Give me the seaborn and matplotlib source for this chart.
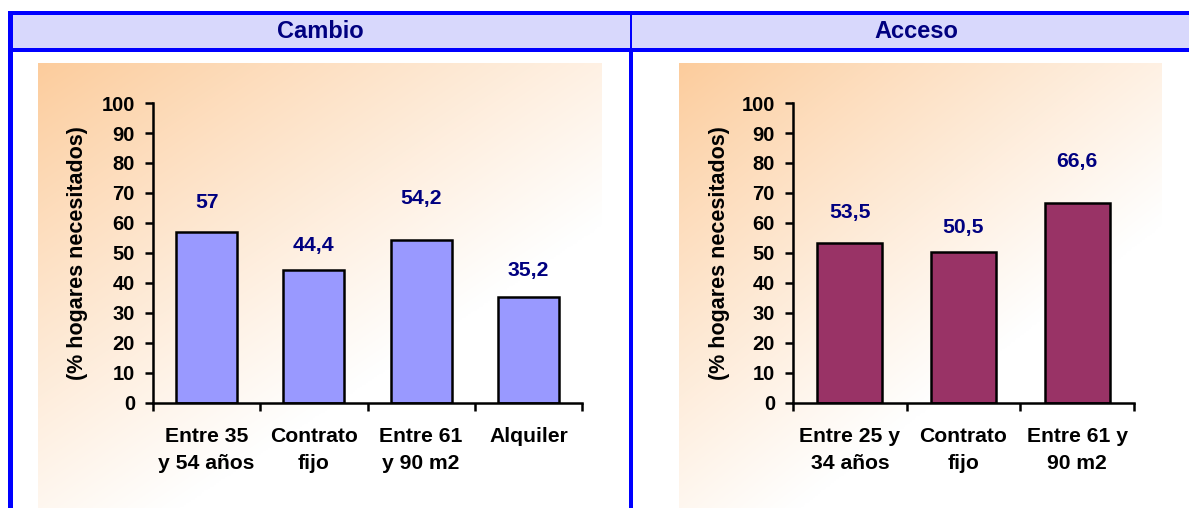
import numpy as np
import pandas as pd
import matplotlib
matplotlib.use("Agg")
import matplotlib.pyplot as plt
from matplotlib.patches import Rectangle
from matplotlib.colors import to_rgb
import seaborn as sns

# --- data -------------------------------------------------------------
cambio_cats = ["Entre 35\ny 54 años", "Contrato\nfijo", "Entre 61\ny 90 m2", "Alquiler"]
cambio_vals = [57, 44.4, 54.2, 35.2]

acceso_cats = ["Entre 25 y\n34 años", "Contrato\nfijo", "Entre 61 y\n90 m2"]
acceso_vals = [53.5, 50.5, 66.6]

panel_titles = ["Cambio", "Acceso"]
y_label = "(% hogares necesitados)"
y_ticks = list(range(0, 101, 10))

# vertical offsets (data units) of the value labels above each bar
cambio_label_pad = [10, 8, 14, 9]
acceso_label_pad = [10, 8, 14]

# --- style ------------------------------------------------------------
sns.set_theme(style="white")
plt.rcParams["font.family"] = ["Liberation Sans", "DejaVu Sans"]
plt.rcParams["font.weight"] = "bold"

W, H = 1189, 508
fig = plt.figure(figsize=(W / 100, H / 100), dpi=100)

FRAME = "#0000FF"
HEADER = "#D8D8FC"
NAVY = "#000080"
FS_TICK = 14.5
FS = 15.2

# background layer in pixel coordinates
bg = fig.add_axes([0, 0, 1, 1], zorder=0)
bg.set_xlim(0, W)
bg.set_ylim(H, 0)
bg.axis("off")


def gradient_box(ax, x0, y0, x1, y1):
    nx, ny = 300, 240
    u = np.linspace(0, 1, nx)[None, :]
    v = np.linspace(0, 1, ny)[:, None]
    t = np.clip(0.68 * u + 0.8 * v + 0.03, 0, 1) ** 0.9
    c0 = np.array(to_rgb("#FCCA98"))
    c1 = np.array([1.0, 1.0, 1.0])
    img = c0[None, None, :] * (1 - t[..., None]) + c1[None, None, :] * t[..., None]
    ax.imshow(img, extent=(x0, x1, y1, y0), aspect="auto", interpolation="bilinear", zorder=1)


gradient_box(bg, 38, 63, 602, H)
gradient_box(bg, 679, 63, 1162, H)

# header band and blue frame
bg.add_patch(Rectangle((8, 15), W - 8, 33, facecolor=HEADER, edgecolor="none", zorder=2))
bg.add_patch(Rectangle((8, 11), W - 8, 4, facecolor=FRAME, edgecolor="none", zorder=3))
bg.add_patch(Rectangle((8, 48), W - 8, 4, facecolor=FRAME, edgecolor="none", zorder=3))
bg.add_patch(Rectangle((8, 11), 5, H - 11, facecolor=FRAME, edgecolor="none", zorder=3))
bg.add_patch(Rectangle((630, 15), 2, 33, facecolor=FRAME, edgecolor="none", zorder=3))
bg.add_patch(Rectangle((629, 52), 4, H - 52, facecolor=FRAME, edgecolor="none", zorder=3))

bg.text(320, 32, panel_titles[0], ha="center", va="center", fontsize=17,
        fontweight="bold", color=NAVY, zorder=4)
bg.text(916, 32, panel_titles[1], ha="center", va="center", fontsize=17,
        fontweight="bold", color=NAVY, zorder=4)


def px_rect(x0, x1, ytop, ybot):
    return [x0 / W, (H - ybot) / H, (x1 - x0) / W, (ybot - ytop) / H]


def bar_panel(rect, cats, vals, pads, color, ylab_x):
    ax = fig.add_axes(rect, zorder=5)
    ax.patch.set_alpha(0)
    df = pd.DataFrame({"cat": cats, "val": vals})
    sns.barplot(data=df, x="cat", y="val", color=color, saturation=1,
                width=0.57, edgecolor="black", linewidth=1.8, ax=ax)
    n = len(cats)
    ax.set_xlim(-0.5, n - 0.5)
    ax.set_ylim(0, 100)
    ax.set_yticks(y_ticks)
    ax.set_yticklabels([str(t) for t in y_ticks], fontsize=FS_TICK, fontweight="bold")
    ax.set_xticks(range(n))
    ax.set_xticklabels(cats, fontsize=FS, fontweight="bold", linespacing=1.55)
    ax.set_xticks(np.arange(-0.5, n, 1.0), minor=True)
    ax.tick_params(axis="x", which="major", length=0, pad=17, colors="black")
    ax.tick_params(axis="x", which="minor", length=6, width=1.8, direction="out",
                   bottom=True, color="black")
    ax.tick_params(axis="y", which="major", length=6, width=1.8, direction="out",
                   left=True, pad=7, colors="black")
    for s in ["top", "right"]:
        ax.spines[s].set_visible(False)
    for s in ["left", "bottom"]:
        ax.spines[s].set_color("black")
        ax.spines[s].set_linewidth(1.8)
    ax.set_xlabel("")
    ax.set_ylabel("")
    for i, (v, p) in enumerate(zip(vals, pads)):
        ax.text(i, v + p, f"{v:g}".replace(".", ","), ha="center", va="center",
                fontsize=FS, fontweight="bold", color=NAVY)
    fig.text(ylab_x / W, (H - 253) / H, y_label, rotation=90, ha="center",
             va="center", fontsize=15.5, fontweight="bold", color="black", zorder=6)
    return ax


bar_panel(px_rect(153, 582, 103, 403), cambio_cats, cambio_vals, cambio_label_pad,
          "#9999FF", 78)
bar_panel(px_rect(793, 1134, 103, 403), acceso_cats, acceso_vals, acceso_label_pad,
          "#993366", 719)

fig.savefig("out.png", dpi=100)
